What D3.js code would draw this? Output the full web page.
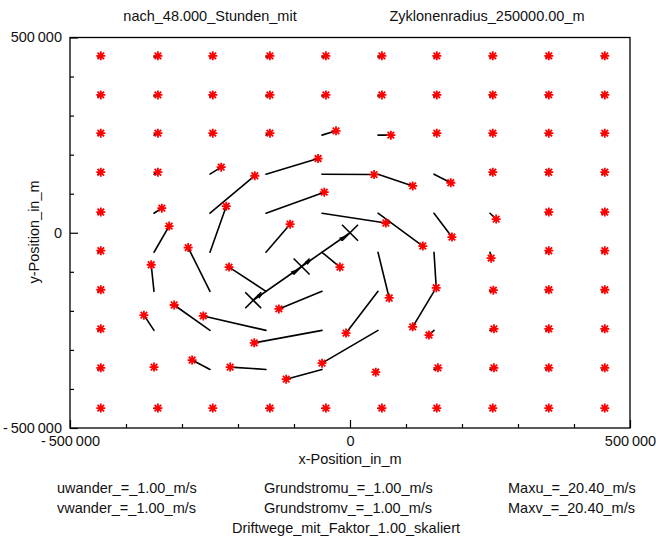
<!DOCTYPE html>
<html>
<head>
<meta charset="utf-8">
<script src="https://cdn.jsdelivr.net/npm/d3@7"></script>
<style>
  body { margin: 0; background: #fff; }
  svg { display: block; }
  text { font-family: "Liberation Sans", Arial, sans-serif; font-size: 14.5px; fill: #111; }
</style>
</head>
<body>
<svg id="chart" width="656" height="541"></svg>
<script>
// Start positions of the drifting particles (m)
const gridX = [-450000, -350000, -250000, -150000, -50000, 50000, 150000, 250000, 350000, 450000];
const gridY = [450000, 350000, 250000, 150000, 50000, -50000, -150000, -250000, -350000, -450000];

// End positions after 48 h, one row per start row (m)
const endX = [
  [-445000, -343000, -245000, -143000, -43000, 57000, 155000, 255000, 355000, 455000],
  [-445000, -343000, -245000, -143000, -43000, 57000, 155000, 255000, 355000, 455000],
  [-445000, -343000, -245000, -143000, -25000, 73000, 155000, 255000, 355000, 455000],
  [-445000, -343000, -230000, -57000, 43000, 112000, 180000, 255000, 355000, 455000],
  [-445000, -336000, -170000, -46000, 64000, 130000, 182000, 261000, 355000, 455000],
  [-445000, -323000, -221000, -107000, -18000, 70000, 154000, 252000, 355000, 455000],
  [-445000, -355000, -289000, -216000, -127000, -7000, 112000, 256000, 355000, 455000],
  [-445000, -368000, -314000, -262000, -171000, -50000, 141000, 257000, 355000, 455000],
  [-445000, -350000, -282000, -214000, -114000, 46000, 157000, 257000, 355000, 455000],
  [-445000, -343000, -245000, -143000, -43000, 57000, 155000, 255000, 355000, 455000]
];
const endY = [
  [453000, 453000, 453000, 453000, 453000, 453000, 453000, 453000, 453000, 453000],
  [353000, 353000, 353000, 353000, 353000, 353000, 353000, 353000, 353000, 353000],
  [255000, 255000, 255000, 255000, 261000, 250000, 255000, 255000, 255000, 255000],
  [155000, 155000, 168000, 190000, 149000, 120000, 128000, 155000, 155000, 155000],
  [53000, 63000, 146000, 104000, 25000, -34000, -11000, 35000, 53000, 53000],
  [-46000, 17000, 68000, 22000, -88000, -167000, -141000, -65000, -46000, -46000],
  [-146000, -82000, -38000, -88000, -195000, -257000, -241000, -147000, -146000, -146000],
  [-246000, -211000, -185000, -213000, -282000, -334000, -262000, -246000, -246000, -246000],
  [-346000, -344000, -326000, -344000, -375000, -357000, -346000, -346000, -346000, -346000],
  [-449000, -449000, -449000, -449000, -449000, -449000, -449000, -449000, -449000, -449000]
];

// Cyclone centre: start, after 24 h, after 48 h (m)
const trackX = [-172800, -86400, 0];
const trackY = [-172800, -86400, 0];

// Axis ticks
const majorTicks = [-500000, 0, 500000];
const majorLabels = ["-\u2009500\u2009000", "0", "500\u2009000"];
const minorTicks = [-400000, -300000, -200000, -100000, 100000, 200000, 300000, 400000];

const titleLeft = "nach_48.000_Stunden_mit";
const titleRight = "Zyklonenradius_250000.00_m";
const xTitle = "x-Position_in_m";
const yTitle = "y-Position_in_m";
const infoRows = [
  ["uwander_=_1.00_m/s", "Grundstromu_=_1.00_m/s", "Maxu_=_20.40_m/s"],
  ["vwander_=_1.00_m/s", "Grundstromv_=_1.00_m/s", "Maxv_=_20.40_m/s"]
];
const footer = "Driftwege_mit_Faktor_1.00_skaliert";

const svg = d3.select("#chart");
const plotL = 70, plotR = 630, plotT = 37.5, plotB = 428;

const x = d3.scaleLinear().domain([-500000, 500000]).range([plotL, plotR]);
const y = d3.scaleLinear().domain([-500000, 500000]).range([plotB, plotT]);

// Titles
svg.append("text").attr("x", 210).attr("y", 21).attr("text-anchor", "middle").text(titleLeft);
svg.append("text").attr("x", 487).attr("y", 21).attr("text-anchor", "middle").text(titleRight);

// Frame
svg.append("rect")
  .attr("x", plotL).attr("y", plotT)
  .attr("width", plotR - plotL).attr("height", plotB - plotT)
  .attr("fill", "none").attr("stroke", "#000").attr("stroke-width", 1.3);

const fmt = v => majorLabels[majorTicks.indexOf(v)];

// Bottom axis: minor then labelled major ticks, pointing inward
const gxMinor = svg.append("g").attr("transform", `translate(0,${plotB})`)
  .call(d3.axisBottom(x).tickValues(minorTicks).tickSize(-4).tickFormat(""));
const gxMajor = svg.append("g").attr("transform", `translate(0,${plotB})`)
  .call(d3.axisBottom(x).tickValues(majorTicks).tickSize(-8).tickPadding(8).tickFormat(fmt));

// Left axis
const gyMinor = svg.append("g").attr("transform", `translate(${plotL},0)`)
  .call(d3.axisLeft(y).tickValues(minorTicks).tickSize(-4).tickFormat(""));
const gyMajor = svg.append("g").attr("transform", `translate(${plotL},0)`)
  .call(d3.axisLeft(y).tickValues(majorTicks).tickSize(-8).tickPadding(8).tickFormat(fmt));

[gxMinor, gxMajor, gyMinor, gyMajor].forEach(g => {
  g.select(".domain").remove();
  g.selectAll(".tick line").attr("stroke", "#000").attr("stroke-width", 1.2);
  g.selectAll("text").attr("font-family", null).attr("font-size", null).attr("fill", "#111");
});
gxMajor.selectAll("text").attr("dy", "0.7em");
gyMajor.selectAll("text").attr("dy", "0.3em");

// Axis titles
svg.append("text").attr("x", 350).attr("y", 464).attr("text-anchor", "middle").text(xTitle);
svg.append("text")
  .attr("transform", "translate(39,232) rotate(-90)")
  .attr("text-anchor", "middle").text(yTitle);

// Drift paths
const particles = [];
gridY.forEach((gy, j) => gridX.forEach((gx, i) => {
  particles.push({ x0: gx, y0: gy, x1: endX[j][i], y1: endY[j][i] });
}));

svg.append("g").selectAll("line").data(particles).join("line")
  .attr("x1", d => x(d.x0)).attr("y1", d => y(d.y0))
  .attr("x2", d => x(d.x1)).attr("y2", d => y(d.y1))
  .attr("stroke", "#000").attr("stroke-width", 1.6).attr("stroke-linecap", "round");

// Cyclone track with crosses and small direction heads
const track = trackX.map((tx, k) => ({ x: tx, y: trackY[k] }));
svg.append("path")
  .attr("d", d3.line().x(d => x(d.x)).y(d => y(d.y))(track))
  .attr("fill", "none").attr("stroke", "#000").attr("stroke-width", 1.6);

const heads = [];
for (let k = 0; k < track.length - 1; k++) {
  const a = track[k], b = track[k + 1];
  [0.15, 0.85].forEach(f => heads.push({
    px: x(a.x + (b.x - a.x) * f), py: y(a.y + (b.y - a.y) * f),
    ang: Math.atan2(y(b.y) - y(a.y), x(b.x) - x(a.x))
  }));
}
svg.append("g").selectAll("path").data(heads).join("path")
  .attr("d", "M3.5,0L-3,-2.2L-3,2.2Z")
  .attr("transform", d => `translate(${d.px},${d.py}) rotate(${d.ang * 180 / Math.PI})`)
  .attr("fill", "#000");

const cross = 8;
svg.append("g").selectAll("path").data(track).join("path")
  .attr("d", d => {
    const cx = x(d.x), cy = y(d.y);
    return `M${cx - cross},${cy - cross}L${cx + cross},${cy + cross}M${cx - cross},${cy + cross}L${cx + cross},${cy - cross}`;
  })
  .attr("stroke", "#000").attr("stroke-width", 1.6).attr("fill", "none");

// End-position markers
const s = 4.5, sd = 3.3;
svg.append("g").selectAll("path").data(particles).join("path")
  .attr("d", d => {
    const cx = x(d.x1), cy = y(d.y1);
    return `M${cx - s},${cy}L${cx + s},${cy}M${cx},${cy - s}L${cx},${cy + s}` +
           `M${cx - sd},${cy - sd}L${cx + sd},${cy + sd}M${cx - sd},${cy + sd}L${cx + sd},${cy - sd}`;
  })
  .attr("stroke", "#ff0000").attr("stroke-width", 1.8).attr("fill", "none");

// Parameter block
const colX = [57, 264, 508];
infoRows.forEach((row, r) => row.forEach((t, c) => {
  svg.append("text").attr("x", colX[c]).attr("y", 493 + r * 20).text(t);
}));
svg.append("text").attr("x", 346).attr("y", 533).attr("text-anchor", "middle").text(footer);
</script>
</body>
</html>
